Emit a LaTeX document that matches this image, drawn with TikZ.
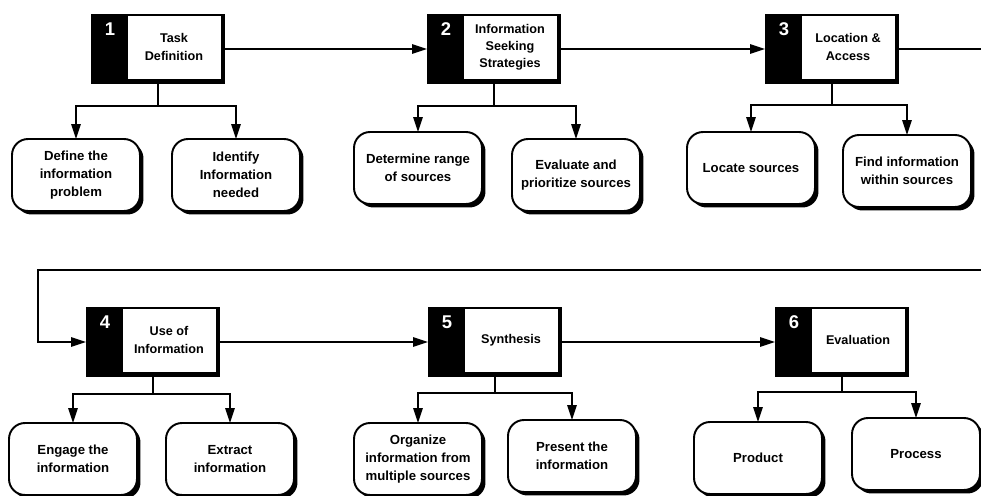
\documentclass[tikz,border=0pt]{standalone}
\usepackage{fontspec}
\setmainfont{Liberation Sans}
\usetikzlibrary{arrows.meta,shadows}
\tikzset{
  every node/.style={font=\bfseries\fontsize{7.5}{10.2}\selectfont,inner sep=0pt,outer sep=0pt},
  stageback/.style={fill=black,minimum width=2.68cm,minimum height=1.4cm},
  stagetext/.style={draw=black,line width=.4pt,fill=white,minimum width=1.88cm,minimum height=1.28cm,
    align=center,font=\bfseries\fontsize{7.2}{9.8}\selectfont},
  stagenum/.style={text=white,font=\bfseries\fontsize{10.5}{10.5}\selectfont},
  leaf/.style={draw,line width=1.1pt,rounded corners=3.2mm,fill=white,minimum width=2.56cm,
    minimum height=1.44cm,align=center,
    drop shadow={shadow xshift=.07cm,shadow yshift=-.07cm,opacity=1,fill=black}},
  flow/.style={-{Triangle[length=3mm,width=1.9mm]},line width=.8pt},
  link/.style={line width=.8pt},
}
% black tab with the step number, white card with the title
\newcommand{\stagecard}[5]{%
  \node[stageback] (#1) at (#2,#3) {};
  \node[stagetext,anchor=north east] (#1t) at ([shift={(-4,1)}]#1.north east) {#5};
  \node[stagenum] (#1n) at ([shift={(19,15)}]#1.north west) {#4};
}

\begin{document}
\begin{tikzpicture}[x=.02cm,y=-.02cm]
\path[use as bounding box] (0,0) rectangle (981,496);
\clip (0,0) rectangle (981,496);
\fill[white] (0,0) rectangle (981,496);
% the six steps
\stagecard{s1}{158}{49}{1}{Task\\Definition}
\stagecard{s2}{494}{49}{2}{Information\\Seeking\\Strategies}
\stagecard{s3}{832}{49}{3}{Location \&\\Access}
\stagecard{s4}{153}{342}{4}{Use of\\Information}
\stagecard{s5}{495}{342}{5}{Synthesis}
\stagecard{s6}{842}{342}{6}{Evaluation}
% sub-steps
\node[leaf] (c1-l) at (76,175) {Define the\\information\\problem};
\node[leaf] (c1-r) at (236,175) {Identify\\Information\\needed};
\node[leaf] (c2-l) at (418,168) {Determine range\\of sources};
\node[leaf] (c2-r) at (576,175) {Evaluate and\\prioritize sources};
\node[leaf] (c3-l) at (751,168) {Locate sources};
\node[leaf] (c3-r) at (907,171) {Find information\\within sources};
\node[leaf] (c4-l) at (73,459) {Engage the\\information};
\node[leaf] (c4-r) at (230,459) {Extract\\information};
\node[leaf] (c5-l) at (418,459) {Organize\\information from\\multiple sources};
\node[leaf] (c5-r) at (572,456) {Present the\\information};
\node[leaf] (c6-l) at (758,458) {Product};
\node[leaf] (c6-r) at (916,454) {Process};
% each step forks into its two sub-steps
\foreach \s/\g in {1/22,2/22,3/21,4/17,5/16,6/15}{
  \coordinate (b\s) at ([shift={(0,\g)}]s\s.south);
  \draw[link] (s\s.south) -- (b\s);
  \draw[flow] (b\s) -| (c\s-l.north);
  \draw[flow] (b\s) -| (c\s-r.north);
}
% main sequence
\draw[flow] (s1.east) -- (s2.west);
\draw[flow] (s2.east) -- (s3.west);
\draw[flow] (s4.east) -- (s5.west);
\draw[flow] (s5.east) -- (s6.west);
% wrap from step 3 round to step 4
\coordinate (loopR) at (995,270);
\coordinate (loopL) at (38,270);
\draw[flow] (s3.east) -| (loopR) -- (loopL) |- (s4.west);
\end{tikzpicture}
\end{document}
